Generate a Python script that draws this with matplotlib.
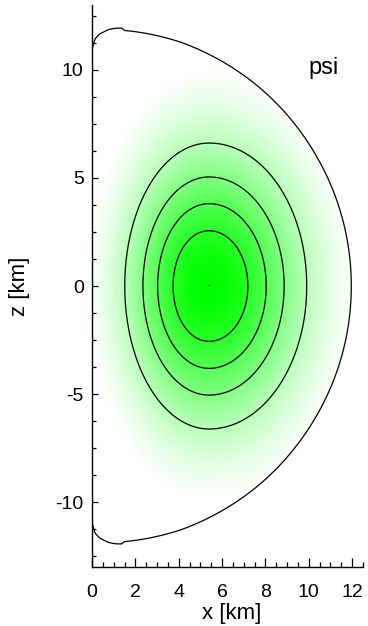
import numpy as np
import matplotlib
matplotlib.use("Agg")
import matplotlib.pyplot as plt
from matplotlib.colors import LinearSegmentedColormap, PowerNorm
from matplotlib.ticker import MultipleLocator
from matplotlib.patches import Polygon

plt.rcParams['font.family'] = ['Liberation Sans', 'DejaVu Sans']
plt.rcParams['axes.unicode_minus'] = False

# psi field (km)
psi_center_x = 5.4          # position of the maximum
psi_scale_left = 2.24       # radial scale, inner side
psi_scale_right = 2.55      # radial scale, outer side
psi_scale_z = 3.72          # vertical scale
psi_shape_left = 1.16
psi_shape_right = 1.07
psi_shape_z = 1.04
contour_levels = [0.2, 0.4, 0.6, 0.8]

# stellar surface, upper half, as polar angle from the pole (deg) and radius (km)
surface_theta = [0.0, 0.7, 1.7, 3.7, 5.3, 6.6, 7.2, 20.0, 40.0, 60.0, 90.0]
surface_r = [10.95, 11.43, 11.66, 11.89, 11.98, 12.01, 11.92, 12.0, 12.0, 11.97, 11.96]

x_ticks = [0, 2, 4, 6, 8, 10, 12]
z_ticks = [-10, -5, 0, 5, 10]


def psi_field(x, z):
    dx = x - psi_center_x
    sx = np.where(dx < 0, psi_scale_left, psi_scale_right)
    a = (dx / sx) ** 2
    b = (z / psi_scale_z) ** 2
    rho2 = a + b
    cos2 = a / (rho2 + 1e-12)
    q = psi_shape_z * (1 - cos2) + np.where(dx < 0, psi_shape_left, psi_shape_right) * cos2
    return np.exp(-(rho2 / 2) ** q)


fig = plt.figure(figsize=(3.68, 6.26), dpi=100)
ax = fig.add_axes([0.25, 0.0942, 0.7364, 0.8978])

xg = np.linspace(0, 12.5, 500)
zg = np.linspace(-13, 13, 1040)
X, Z = np.meshgrid(xg, zg)
P = psi_field(X, Z)

# surface outline (upper half mirrored)
th = np.linspace(0, 90, 400)
r = np.interp(th, surface_theta, surface_r)
sx_up = r * np.sin(np.radians(th))
sz_up = r * np.cos(np.radians(th))
sx_all = np.concatenate([sx_up, sx_up[::-1]])
sz_all = np.concatenate([sz_up, -sz_up[::-1]])

cmap = LinearSegmentedColormap.from_list('wg', ['#ffffff', '#00ff00'])
im = ax.imshow(P, extent=[0, 12.5, -13, 13], origin='lower', cmap=cmap,
               norm=PowerNorm(0.75, vmin=0.025, vmax=1, clip=True),
               interpolation='bilinear', aspect='auto')
clip = Polygon(np.column_stack([np.concatenate([[0], sx_all, [0]]),
                                np.concatenate([[sz_all[0]], sz_all, [sz_all[-1]]])]),
               closed=True, transform=ax.transData, facecolor='none', edgecolor='none')
ax.add_patch(clip)
im.set_clip_path(clip)

ax.contour(X, Z, P, levels=contour_levels, colors='black', linewidths=0.9)
ax.plot(sx_all, sz_all, color='black', lw=0.9)
ax.plot([psi_center_x], [0.05], marker='_', ms=2, mew=0.8, color='black')

ax.set_xlim(0, 12.5)
ax.set_ylim(-13, 13)
ax.set_xticks(x_ticks)
ax.set_yticks(z_ticks)
ax.xaxis.set_minor_locator(MultipleLocator(0.5))
ax.yaxis.set_minor_locator(MultipleLocator(1.25))
ax.tick_params(axis='x', which='major', direction='in', length=6.5, width=0.9, labelsize=14, pad=12.5)
ax.tick_params(axis='x', which='minor', direction='in', length=3.6, width=0.9)
ax.tick_params(axis='y', which='major', direction='in', length=4.3, width=0.9, labelsize=14, pad=6)
ax.tick_params(axis='y', which='minor', direction='in', length=3.0, width=0.9)
for s in ['top', 'right']:
    ax.spines[s].set_visible(False)
for s in ['left', 'bottom']:
    ax.spines[s].set_linewidth(1.0)

ax.set_xlabel('x [km]', fontsize=16)
ax.set_ylabel('z [km]', fontsize=16)
ax.xaxis.set_label_coords(0.517, -0.064)
ax.yaxis.set_label_coords(-0.228, 0.5)

ax.text(10.7, 10.1, 'psi', fontsize=17, ha='center', va='center')

fig.savefig('out.png', dpi=100)
